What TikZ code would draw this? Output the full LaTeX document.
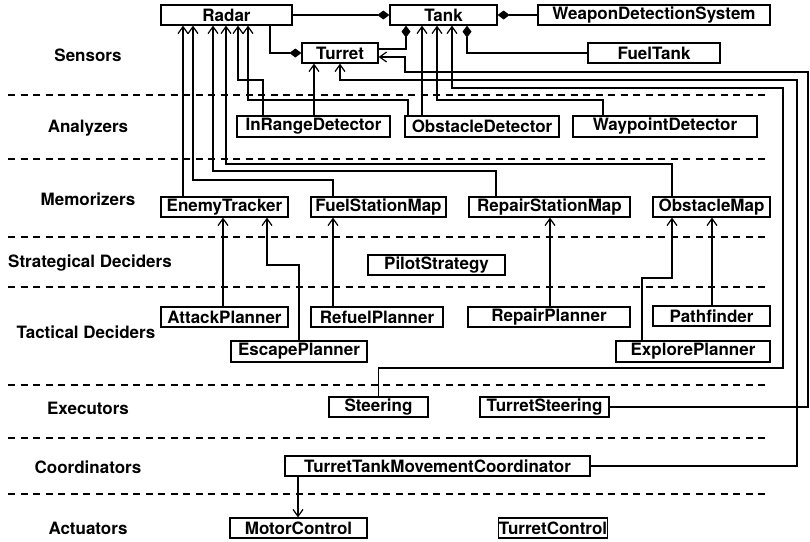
\documentclass[tikz,border=0pt]{standalone}
\usepackage{fontspec}
\setmainfont{TeX Gyre Heros}
\usetikzlibrary{arrows.meta}
\newcommand\mkbox[6]{\node[box, minimum width={#3pt-#2pt}, minimum height={#5pt-#4pt}] (#1) at ({(#2+#3)/2},{(#4+#5)/2}) {#6};}
\begin{document}
\begin{tikzpicture}[x=1pt,y=-1pt,
  every node/.style={font=\fontsize{17}{20}\selectfont\bfseries},
  box/.style={draw, line width=1.2pt, fill=white, inner sep=0pt},
  lbl/.style={inner sep=0pt},
  conn/.style={line width=1.2pt},
  dep/.style={conn, -{Straight Barb[length=7pt,width=10pt]}},
  compE/.style={conn, -{Diamond[length=12pt,width=9pt]}},
  compS/.style={conn, {Diamond[length=12pt,width=9pt]}-},
  sep/.style={line width=1.2pt, dash pattern=on 7pt off 5.5pt}]
\path[fill=white] (0,0) rectangle (810,541);
% layer separators
\foreach \yy in {95,159,237,287,385,438,494} \draw[sep] (8,\yy) -- (768,\yy);
% layer labels
\node[lbl] (lsens) at (88,55) {Sensors};
\node[lbl] (lanal) at (88,128) {Analyzers};
\node[lbl] (lmem) at (88,199) {Memorizers};
\node[lbl] (lstrat) at (90,263) {Strategical Deciders};
\node[lbl] (ltact) at (86,332) {Tactical Deciders};
\node[lbl] (lexec) at (88,408) {Executors};
\node[lbl] (lcoord) at (88,467) {Coordinators};
\node[lbl] (lact) at (88,528) {Actuators};
% boxes
\mkbox{radar}{161}{292}{5}{25}{Radar}
\mkbox{tank}{390}{497}{5}{25}{Tank}
\mkbox{wds}{538}{770}{5}{25}{WeaponDetectionSystem}
\mkbox{turret}{302}{378}{43}{63}{Turret}
\mkbox{fueltank}{588}{720}{43}{63}{FuelTank}
\mkbox{inrange}{237}{390}{116}{137}{InRangeDetector}
\mkbox{obsdet}{405}{559}{116}{137}{ObstacleDetector}
\mkbox{waydet}{573}{757}{116}{137}{WaypointDetector}
\mkbox{enemy}{161}{288}{197}{217}{EnemyTracker}
\mkbox{fuelmap}{311}{446}{197}{217}{FuelStationMap}
\mkbox{repmap}{469}{630}{197}{217}{RepairStationMap}
\mkbox{obsmap}{653}{770}{197}{217}{ObstacleMap}
\mkbox{pilot}{368}{505}{255}{275}{PilotStrategy}
\mkbox{attack}{161}{288}{307}{327}{AttackPlanner}
\mkbox{refuel}{311}{443}{307}{327}{RefuelPlanner}
\mkbox{repplan}{468}{630}{307}{327}{RepairPlanner}
\mkbox{pathf}{653}{770}{306}{326}{Pathfinder}
\mkbox{escape}{231}{367}{341}{362}{EscapePlanner}
\mkbox{explore}{616}{770}{341}{362}{ExplorePlanner}
\mkbox{steer}{329}{428}{397}{417}{Steering}
\mkbox{tsteer}{480}{609}{397}{417}{TurretSteering}
\mkbox{ttmc}{285}{590}{456}{476}{TurretTankMovementCoordinator}
\mkbox{motor}{230}{367}{518}{538}{MotorControl}
\mkbox{tcontrol}{500}{606}{518}{538}{TurretControl}
% compositions
\draw[compE] (radar.east) -- (tank.west);
\draw[compE] (wds.west) -- (tank.east);
\draw[compE] (radar.south -| 270,0) |- (turret.west);
\draw[compS] (tank.south -| 406,0) |- (turret.east |- 0,49);
\draw[compS] (tank.south -| 467,0) |- (fueltank.west);
% dependencies
\draw[dep] (tsteer.east) -| (808,72) -| (405,57) -- (turret.east |- 0,57);
\draw[dep] (ttmc.east) -| (797,80) -| (turret.south -| 340,0);
\draw[dep] (steer.north) |- (783,368) |- (452,88) -- (tank.south -| 452,0);
\draw[dep] (inrange.north -| 314,0) -- (turret.south -| 314,0);
\draw[dep] (inrange.north -| 263,0) |- (238,80) -- (radar.south -| 238,0);
\draw[dep] (obsdet.north -| 408,0) |- (248,100) -- (radar.south -| 248,0);
\draw[dep] (obsdet.north -| 422,0) -- (tank.south -| 422,0);
\draw[dep] (waydet.north -| 603,0) |- (437,100) -- (tank.south -| 437,0);
\draw[dep] (enemy.north -| 183,0) -- (radar.south -| 183,0);
\draw[dep] (fuelmap.north -| 333,0) |- (193,180) -- (radar.south -| 193,0);
\draw[dep] (repmap.north -| 496,0) |- (213,171) -- (radar.south -| 213,0);
\draw[dep] (obsmap.north -| 672,0) |- (226,164) -- (radar.south -| 226,0);
\draw[dep] (attack.north -| 223,0) -- (enemy.south -| 223,0);
\draw[dep] (escape.north -| 299,0) |- (267,265) -- (enemy.south -| 267,0);
\draw[dep] (refuel.north -| 333,0) -- (fuelmap.south -| 333,0);
\draw[dep] (repplan.north -| 550,0) -- (repmap.south -| 550,0);
\draw[dep] (explore.north -| 642,0) |- (672,278) -- (obsmap.south -| 672,0);
\draw[dep] (pathf.north -| 712,0) -- (obsmap.south -| 712,0);
\draw[dep] (ttmc.south -| 298,0) -- (motor.north -| 298,0);
\end{tikzpicture}
\end{document}
